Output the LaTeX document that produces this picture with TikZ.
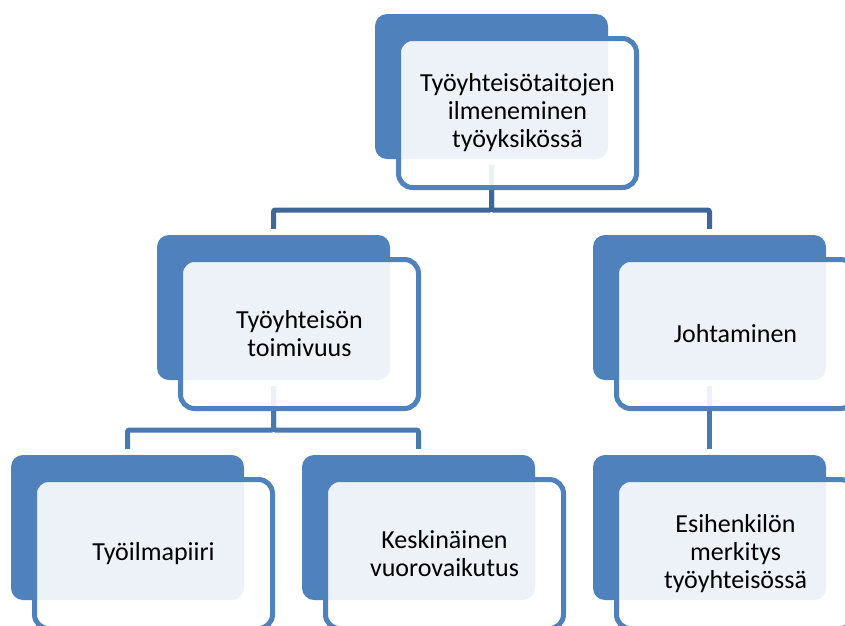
\documentclass[tikz,border=0pt]{standalone}
\usepackage{fontspec}
\setmainfont{Carlito}
\usetikzlibrary{backgrounds}

\definecolor{tumma}{HTML}{4F81BD}
\definecolor{viiva1}{HTML}{3F6699}
\definecolor{viiva2}{HTML}{4A78B0}

\begin{document}
\begin{tikzpicture}[x=1pt, y=-1pt,
    tausta/.style={fill=tumma, rounded corners=12pt, minimum width=233pt, minimum height=145pt, inner sep=0pt},
    kehys/.style={draw=tumma, line width=5pt, fill=white, fill opacity=0.9, text opacity=1,
        rounded corners=14pt, minimum width=238pt, minimum height=149pt, inner sep=0pt,
        align=center, font=\fontsize{26}{28}\selectfont},
    yhteys/.style={line width=5pt, rounded corners=2pt, shorten <=6pt, shorten >=6pt}]
    \useasboundingbox (0,0) rectangle (845,625);
    \clip (0,0) rectangle (845,625);

    % ノードを描画
    \node[tausta] (A) at (491.5, 86.5) {};
    \node[kehys] (Ak) at (517.5, 113) {Työyhteisötaitojen\\ilmeneminen\\työyksikössä};
    \node[tausta] (B) at (273.5, 307.5) {};
    \node[kehys] (Bk) at (299.5, 334) {Työyhteisön\\toimivuus};
    \node[tausta] (C) at (709.5, 307.5) {};
    \node[kehys] (Ck) at (735.5, 334) {Johtaminen};
    \node[tausta] (D) at (127.5, 527.5) {};
    \node[kehys] (Dk) at (153.5, 554) {Työilmapiiri};
    \node[tausta] (E) at (418.5, 527.5) {};
    \node[kehys] (Ek) at (444.5, 554) {Keskinäinen\\vuorovaikutus};
    \node[tausta] (F) at (709.5, 527.5) {};
    \node[kehys] (Fk) at (735.5, 554) {Esihenkilön\\merkitys\\työyhteisössä};

    % エッジを描画
    \coordinate (h1) at (0, 210);
    \coordinate (h2) at (0, 430);
    \begin{scope}[on background layer]
        \draw[yhteys, viiva1] (A.south) -- (A.south |- h1) -| (B.north);
        \draw[yhteys, viiva1] (A.south) -- (A.south |- h1) -| (C.north);
        \draw[yhteys, viiva2] (B.south) -- (B.south |- h2) -| (D.north);
        \draw[yhteys, viiva2] (B.south) -- (B.south |- h2) -| (E.north);
        \draw[yhteys, viiva2] (C.south) -- (F.north);
    \end{scope}
\end{tikzpicture}
\end{document}
